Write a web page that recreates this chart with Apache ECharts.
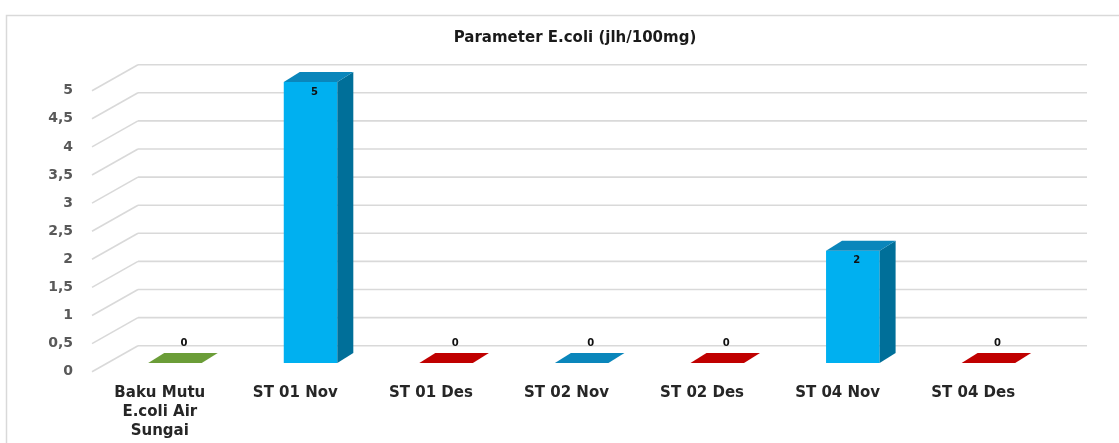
<!DOCTYPE html>
<html>
<head>
<meta charset="utf-8">
<script src="https://cdn.jsdelivr.net/npm/echarts@6/dist/echarts.min.js"></script>
<style>
html,body{margin:0;padding:0;background:#fff;overflow:hidden;}
#chart{width:1119px;height:443px;}
</style>
</head>
<body>
<div id="chart"></div>
<script>
const titleText = 'Parameter E.coli (jlh/100mg)';
const categories = ['Baku Mutu\nE.coli Air\nSungai','ST 01 Nov','ST 01 Des','ST 02 Nov','ST 02 Des','ST 04 Nov','ST 04 Des'];
const values = [0, 5, 0, 0, 0, 2, 0];
const yTicks = [0, 0.5, 1, 1.5, 2, 2.5, 3, 3.5, 4, 4.5, 5];
const barGroups = ['baku', 'st', 'des', 'st', 'des', 'st', 'des'];

const palette = {
  baku: {front: '#70ad47', side: '#4f7d2f', top: '#6b9d38'},
  st:   {front: '#00b0f0', side: '#006f99', top: '#0a86bb'},
  des:  {front: '#c00000', side: '#8a0000', top: '#c00000'}
};

const DX = 46, DY = -26;      // full depth of the 3D box
const D0 = 0.33;              // bar front depth fraction
const BDX = 16, BDY = -10;    // bar depth

const chart = echarts.init(document.getElementById('chart'), null, {renderer: 'canvas'});

const option = {
  animation: false,
  backgroundColor: '#ffffff',
  title: {
    text: titleText,
    left: 570, top: 26, textAlign: 'center',
    textStyle: {fontFamily: 'DejaVu Sans', fontSize: 15, fontWeight: 'bold', color: '#1a1a1a'}
  },
  graphic: [
    {type: 'polyline', shape: {points: [[6.5, 460], [6.5, 15.5], [1140, 15.5]]}, style: {fill: null, stroke: '#d9d9d9', lineWidth: 1.5}, silent: true, z: -10}
  ],
  grid: {left: 92, right: 78, top: 90.7, bottom: 71.3, containLabel: false},
  xAxis: {
    type: 'category', data: categories,
    axisLine: {show: false}, axisTick: {show: false}, splitLine: {show: false},
    axisLabel: {
      interval: 0, margin: 12, color: '#262626', fontFamily: 'DejaVu Sans', fontWeight: 'bold',
      fontSize: 15, lineHeight: 19
    }
  },
  yAxis: {
    type: 'value', min: 0, max: 5, interval: 0.5,
    axisLine: {show: false}, axisTick: {show: false}, splitLine: {show: false},
    axisLabel: {
      margin: 19, color: '#595959', fontFamily: 'DejaVu Sans', fontWeight: 'bold', fontSize: 14,
      formatter: v => String(v).replace('.', ',')
    }
  },
  series: [
    {
      type: 'custom', z: 1, silent: true,
      data: yTicks.map(v => [0, v]),
      renderItem: function (params, api) {
        const cs = params.coordSys;
        const y = api.coord([0, api.value(1)])[1];
        const xl = cs.x, xr = cs.x + cs.width;
        const st = {stroke: '#d9d9d9', lineWidth: 1.6, fill: null};
        return {
          type: 'group',
          children: [
            {type: 'line', shape: {x1: xl, y1: y, x2: xl + DX, y2: y + DY}, style: st},
            {type: 'line', shape: {x1: xl + DX, y1: y + DY, x2: xr + DX, y2: y + DY}, style: st}
          ]
        };
      }
    },
    {
      type: 'custom', z: 2, silent: true,
      data: values.map((v, i) => [i, v]),
      renderItem: function (params, api) {
        const i = api.value(0), v = api.value(1);
        const base = api.coord([i, 0]);
        const top = api.coord([i, v]);
        const band = api.size([1, 0])[0];
        const w = band * 0.395;
        const cx = base[0] + DX * D0;
        const fy0 = base[1] + DY * D0;
        const fy1 = top[1] + DY * D0;
        const col = palette[barGroups[i]];
        const L = cx - w / 2, R = cx + w / 2;
        const children = [];
        const lblStyle = {fontFamily: 'DejaVu Sans', fontWeight: 'bold', fontSize: 10, fill: '#111', align: 'center', verticalAlign: 'middle'};
        if (v > 0) {
          children.push({type: 'rect', shape: {x: L, y: fy1, width: w, height: fy0 - fy1}, style: {fill: col.front}});
          children.push({type: 'polygon', shape: {points: [[R, fy1], [R + BDX, fy1 + BDY], [R + BDX, fy0 + BDY], [R, fy0]]}, style: {fill: col.side}});
          children.push({type: 'polygon', shape: {points: [[L, fy1], [R, fy1], [R + BDX, fy1 + BDY], [L + BDX, fy1 + BDY]]}, style: {fill: col.top}});
          children.push({type: 'text', x: cx + 4, y: fy1 + 10, style: Object.assign({text: String(v)}, lblStyle)});
        } else {
          children.push({type: 'polygon', shape: {points: [[L, fy0], [R, fy0], [R + BDX, fy0 + BDY], [L + BDX, fy0 + BDY]]}, style: {fill: col.top}});
          children.push({type: 'text', x: cx + 9, y: fy0 + BDY - 10, style: Object.assign({text: String(v)}, lblStyle)});
        }
        return {type: 'group', children: children};
      }
    }
  ]
};
chart.setOption(option);
</script>
</body>
</html>
